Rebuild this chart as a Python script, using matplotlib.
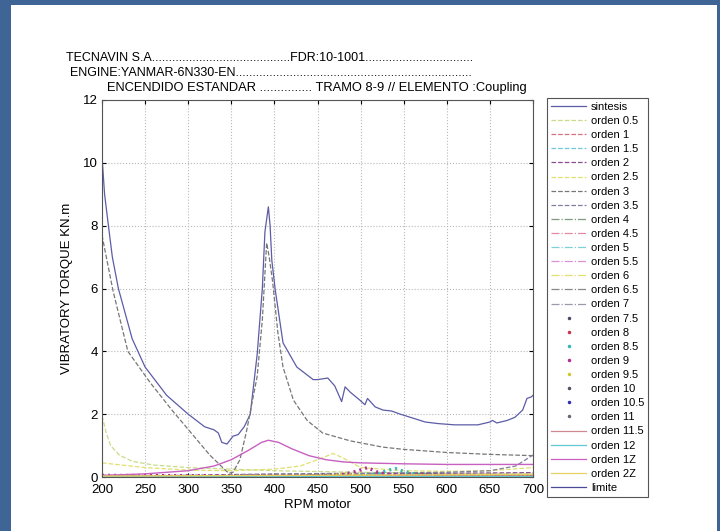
import matplotlib
matplotlib.use('Agg')
import matplotlib.pyplot as plt
from matplotlib.patches import Rectangle
from matplotlib.lines import Line2D

plt.rcParams['font.family'] = ['Liberation Sans', 'DejaVu Sans']

# sintesis (total)
rpm_sin = [200, 203, 207, 212, 219, 223, 235, 250, 275, 300, 319, 330, 335, 339, 345, 352, 358, 365, 372,
           380, 386, 389, 393, 395, 397, 401, 410, 426, 445, 450, 462, 470, 478, 482, 488, 499, 505, 508,
           517, 526, 536, 546, 560, 575, 590, 609, 636, 650, 653, 658, 670, 679, 688, 693, 698, 700]
val_sin = [10.2, 9.0, 8.1, 7.0, 6.0, 5.6, 4.4, 3.5, 2.6, 2.0, 1.6, 1.5, 1.4, 1.1, 1.05, 1.3, 1.35, 1.6, 2.0,
           3.9, 6.0, 7.8, 8.6, 8.0, 6.9, 5.95, 4.27, 3.5, 3.1, 3.1, 3.15, 2.9, 2.4, 2.87, 2.7, 2.45, 2.3, 2.5,
           2.23, 2.13, 2.1, 2.0, 1.88, 1.75, 1.7, 1.66, 1.66, 1.75, 1.8, 1.72, 1.8, 1.9, 2.13, 2.5, 2.55, 2.6]

# orden 3 (dominante)
rpm_o3 = [200, 205, 213, 230, 256, 282, 302, 325, 340, 347, 352, 360, 368, 375, 380, 386, 391, 394, 398,
          404, 410, 422, 438, 456, 488, 526, 550, 600, 650, 700]
val_o3 = [7.7, 7.0, 5.9, 4.0, 3.0, 2.1, 1.45, 0.7, 0.3, 0.12, 0.15, 0.55, 1.5, 2.5, 3.2, 5.0, 7.45, 7.0, 6.2,
          4.6, 3.5, 2.45, 1.8, 1.4, 1.15, 0.95, 0.88, 0.78, 0.72, 0.68]

# orden 1Z
rpm_1z = [200, 250, 300, 330, 350, 370, 385, 393, 405, 420, 440, 460, 480, 500, 550, 600, 700]
val_1z = [0.05, 0.1, 0.2, 0.35, 0.55, 0.85, 1.1, 1.17, 1.1, 0.9, 0.68, 0.55, 0.48, 0.45, 0.42, 0.4, 0.4]

# orden 0.5
rpm_o05 = [200, 205, 210, 220, 235, 260, 300, 350, 400, 500, 600, 700]
val_o05 = [1.95, 1.4, 1.0, 0.7, 0.5, 0.38, 0.3, 0.25, 0.2, 0.15, 0.12, 0.1]

# orden 2.5
rpm_o25 = [200, 250, 300, 350, 400, 430, 455, 468, 480, 500, 550, 600, 650, 700]
val_o25 = [0.45, 0.3, 0.22, 0.2, 0.25, 0.35, 0.6, 0.75, 0.6, 0.3, 0.2, 0.18, 0.2, 0.3]

# ordenes con picos pequenos
rpm_o9 = [200, 300, 450, 480, 495, 508, 520, 535, 560, 700]
val_o9 = [0.05, 0.04, 0.03, 0.08, 0.18, 0.3, 0.15, 0.07, 0.04, 0.03]
rpm_o85 = [200, 500, 520, 530, 540, 550, 565, 600, 700]
val_o85 = [0.02, 0.03, 0.1, 0.2, 0.27, 0.18, 0.08, 0.04, 0.03]
rpm_o95 = [200, 450, 470, 482, 495, 520, 700]
val_o95 = [0.02, 0.03, 0.07, 0.12, 0.07, 0.03, 0.02]
rpm_o8 = [200, 540, 560, 573, 590, 620, 700]
val_o8 = [0.02, 0.03, 0.07, 0.1, 0.07, 0.04, 0.03]
rpm_o10 = [200, 430, 450, 458, 470, 500, 700]
val_o10 = [0.02, 0.03, 0.06, 0.08, 0.05, 0.03, 0.02]

# ordenes casi nulas
rpm_low = [200, 300, 400, 500, 600, 700]
val_o1 = [0.05, 0.04, 0.05, 0.06, 0.07, 0.08]
val_o15 = [0.03, 0.03, 0.04, 0.05, 0.06, 0.07]
val_o2 = [0.04, 0.05, 0.08, 0.1, 0.12, 0.14]
val_o4 = [0.02, 0.02, 0.03, 0.03, 0.04, 0.05]
val_o45 = [0.02, 0.03, 0.03, 0.04, 0.05, 0.06]
val_o5 = [0.01, 0.02, 0.02, 0.03, 0.04, 0.05]
val_o55 = [0.01, 0.02, 0.03, 0.03, 0.04, 0.04]
val_o6 = [0.02, 0.02, 0.03, 0.04, 0.05, 0.06]
val_o65 = [0.01, 0.01, 0.02, 0.02, 0.03, 0.03]
val_o7 = [0.01, 0.01, 0.02, 0.03, 0.03, 0.04]
val_o75 = [0.02, 0.02, 0.03, 0.03, 0.04, 0.05]
val_o105 = [0.01, 0.01, 0.02, 0.02, 0.03, 0.03]
val_o11 = [0.01, 0.01, 0.01, 0.02, 0.02, 0.02]
val_o115 = [0.02, 0.02, 0.02, 0.03, 0.03, 0.03]
val_o12 = [0.01, 0.01, 0.01, 0.01, 0.01, 0.01]
val_2z = [0.03, 0.04, 0.05, 0.06, 0.07, 0.08]

# orden 3.5 (sube al final)
rpm_o35 = [200, 300, 350, 400, 500, 600, 650, 680, 700]
val_o35 = [0.05, 0.05, 0.08, 0.1, 0.12, 0.15, 0.2, 0.35, 0.7]

# limite (fuera de escala en el rango mostrado)
rpm_lim = []
val_lim = []

series = [
    ('sintesis', rpm_sin, val_sin, '#5c5ca8', '-', 0.9),
    ('orden 0.5', rpm_o05, val_o05, '#c8dc8a', '--', 0.9),
    ('orden 1', rpm_low, val_o1, '#d9707f', '--', 0.9),
    ('orden 1.5', rpm_low, val_o15, '#70c8e0', '--', 0.9),
    ('orden 2', rpm_low, val_o2, '#8a4f8e', '--', 0.9),
    ('orden 2.5', rpm_o25, val_o25, '#e0e070', '--', 0.9),
    ('orden 3', rpm_o3, val_o3, '#777777', '--', 0.9),
    ('orden 3.5', rpm_o35, val_o35, '#7f7fa0', '--', 0.9),
    ('orden 4', rpm_low, val_o4, '#7f9a7f', '-.', 0.9),
    ('orden 4.5', rpm_low, val_o45, '#e58aa0', '-.', 0.9),
    ('orden 5', rpm_low, val_o5, '#80d0d8', '-.', 0.9),
    ('orden 5.5', rpm_low, val_o55, '#d890d8', '-.', 0.9),
    ('orden 6', rpm_low, val_o6, '#e4e070', '-.', 0.9),
    ('orden 6.5', rpm_low, val_o65, '#888888', '-.', 0.9),
    ('orden 7', rpm_low, val_o7, '#9a9aaa', '-.', 0.9),
    ('orden 7.5', rpm_low, val_o75, '#4a4a66', ':', 1.6),
    ('orden 8', rpm_o8, val_o8, '#c8324a', ':', 1.8),
    ('orden 8.5', rpm_o85, val_o85, '#30b8b8', ':', 2.4),
    ('orden 9', rpm_o9, val_o9, '#b03090', ':', 2.4),
    ('orden 9.5', rpm_o95, val_o95, '#d0c830', ':', 1.8),
    ('orden 10', rpm_o10, val_o10, '#505068', ':', 1.6),
    ('orden 10.5', rpm_low, val_o105, '#3030b0', ':', 1.6),
    ('orden 11', rpm_low, val_o11, '#666677', ':', 1.6),
    ('orden 11.5', rpm_low, val_o115, '#d08890', '-', 1.0),
    ('orden 12', rpm_low, val_o12, '#60c8d0', '-', 1.5),
    ('orden 1Z', rpm_1z, val_1z, '#c860c0', '-', 1.0),
    ('orden 2Z', rpm_low, val_2z, '#e6d060', '-', 1.0),
    ('limite', rpm_lim, val_lim, '#4a4a98', '-', 0.9),
]

fig = plt.figure(figsize=(7.2, 5.31), dpi=100, facecolor='#3f6596')
fig.patches.append(Rectangle((11 / 720, 0), 706 / 720, 526 / 531, transform=fig.transFigure,
                             facecolor='white', edgecolor='none', zorder=-5))

ax = fig.add_axes([102 / 720, 54 / 531, 431 / 720, 377 / 531])
ax.set_zorder(2)
handles = []
for name, xs, ys, col, ls, lw in series:
    if ls == ':':
        ax.plot(xs, ys, color=col, linestyle=(0, (0.6, 1.2)), linewidth=lw)
        h = Line2D([], [], color=col, linestyle='none', marker='.', markersize=3)
    else:
        ax.plot(xs, ys, color=col, linestyle=ls, linewidth=lw)
        h = Line2D([], [], color=col, linestyle=ls, linewidth=0.9)
    handles.append(h)

ax.set_xlim(200, 700)
ax.set_ylim(0, 12)
ax.set_xticks(range(200, 701, 50))
ax.set_yticks(range(0, 13, 2))
ax.grid(True, linestyle=':', color='#b8b8b8', linewidth=0.8)
ax.tick_params(direction='in', top=True, right=True, labelsize=9.5, length=3)
ax.tick_params(axis='x', pad=5)
ax.tick_params(axis='y', pad=3)
for s in ax.spines.values():
    s.set_color('#555555')
    s.set_linewidth(0.8)
ax.set_xlabel('RPM motor', fontsize=9.5, labelpad=2)
ax.set_ylabel('VIBRATORY TORQUE KN.m', fontsize=9.5, labelpad=7)

fig.text(66 / 720, 1 - 58 / 531, 'TECNAVIN S.A' + '.' * 41 + 'FDR:10-1001' + '.' * 32,
         fontsize=9, va='center', ha='left')
fig.text(70 / 720, 1 - 73 / 531, 'ENGINE:YANMAR-6N330-EN' + '.' * 70,
         fontsize=9, va='center', ha='left')
fig.text(107 / 720, 1 - 88 / 531, 'ENCENDIDO ESTANDAR ' + '.' * 15 + ' TRAMO 8-9 // ELEMENTO :Coupling',
         fontsize=9.3, va='center', ha='left')

leg = fig.legend(handles, [s[0] for s in series], loc='upper left',
                 bbox_to_anchor=(547 / 720, 1 - 98 / 531), fontsize=8,
                 handlelength=3.2, handletextpad=0.4, labelspacing=0.37,
                 borderpad=0.35, borderaxespad=0, fancybox=False, framealpha=1)
leg.get_frame().set_edgecolor('#555555')
leg.get_frame().set_linewidth(0.8)

fig.savefig('out.png', dpi=100, facecolor=fig.get_facecolor())
